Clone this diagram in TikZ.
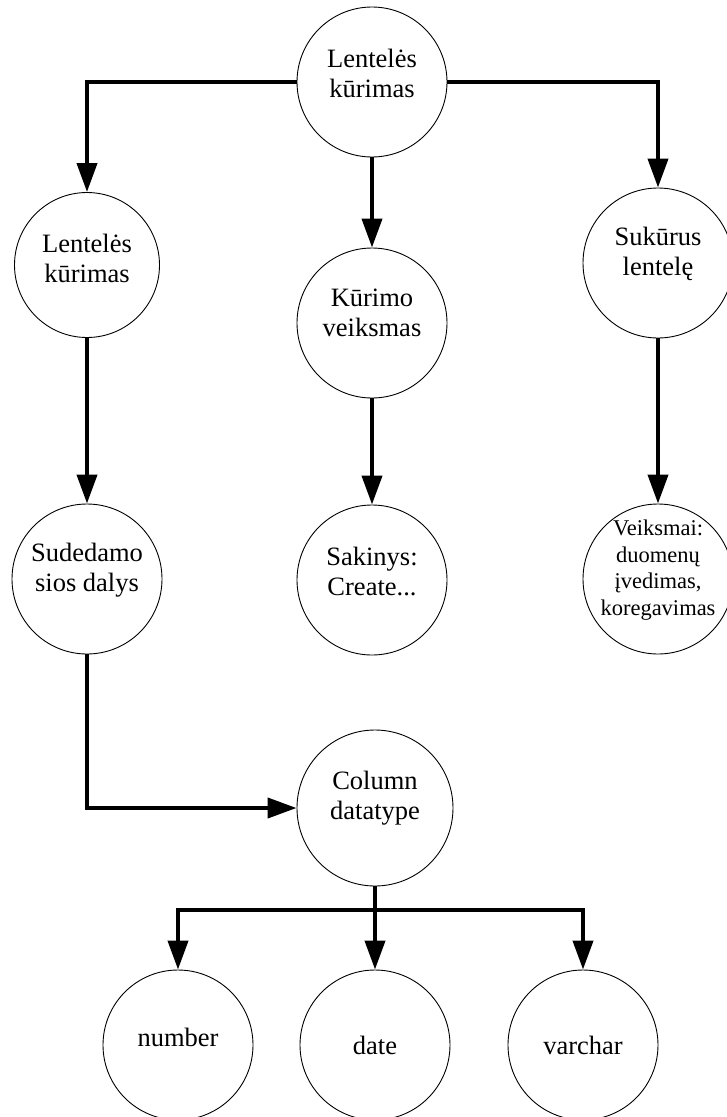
\documentclass[tikz,border=0pt]{standalone}
\usepackage{fontspec}
\setmainfont{Liberation Serif}
\usetikzlibrary{arrows.meta}
\begin{document}
\begin{tikzpicture}[x=1pt,y=-1pt,
  bubble/.style={circle,draw,line width=0.9pt,inner sep=0pt,minimum size=150pt},
  txt/.style={align=center,font=\fontsize{26.5}{30}\selectfont,inner sep=0pt},
  smalltxt/.style={align=center,font=\fontsize{22.5}{26.7}\selectfont,inner sep=0pt},
  conn/.style={line width=4pt,-{Triangle[length=29pt,width=20pt]}},
  plain/.style={line width=4pt}]
\useasboundingbox (0,0) rectangle (727,1117);

% top level
\node[bubble,label={[name=topl,txt,yshift=9pt]center:Lentelės\\kūrimas}] (top) at (372,82) {};

% second row
\node[bubble,minimum size=145pt,label={[name=l1l,txt,yshift=7pt]center:Lentelės\\kūrimas}] (l1) at (87,265) {};
\node[bubble,label={[name=m1l,txt,yshift=10pt]center:Kūrimo\\veiksmas}] (m1) at (372,323) {};
\node[bubble,label={[name=r1l,txt,yshift=9pt]center:Sukūrus\\lentelę}] (r1) at (658,263) {};

% third row
\node[bubble,label={[name=l2l,txt,yshift=9pt]center:Sudedamo\\sios dalys}] (l2) at (87,579) {};
\node[bubble,label={[name=m2l,txt,yshift=9pt]center:Sakinys:\\Create...}] (m2) at (372,580) {};
\node[bubble,label={[name=r2l,smalltxt,yshift=9pt]center:Veiksmai:\\duomenų\\įvedimas,\\koregavimas}] (r2) at (658,579) {};

% column types
\node[bubble,minimum size=156pt,label={[name=coll,txt,yshift=10pt]center:Column\\datatype}] (col) at (375,808) {};
\node[bubble,label={[name=numl,txt,yshift=8pt]center:number}] (num) at (178,1045) {};
\node[bubble,label={[name=datel,txt]center:date}] (date) at (375,1045) {};
\node[bubble,label={[name=varl,txt]center:varchar}] (var) at (583,1045) {};

% connectors
\draw[conn] (top.west) -| (l1.north);
\draw[conn] (top.east) -| (r1.north);
\draw[conn] (top.south) -- (m1.north);
\draw[conn] (l1.south) -- (l2.north);
\draw[conn] (m1.south) -- (m2.north);
\draw[conn] (r1.south) -- (r2.north);
\draw[conn] (l2.south) |- (col.west);

\coordinate (bus) at (375,910);
\draw[conn] (col.south) -- (date.north);
\draw[conn] (bus) -| (num.north);
\draw[conn] (bus) -| (var.north);
\end{tikzpicture}
\end{document}
